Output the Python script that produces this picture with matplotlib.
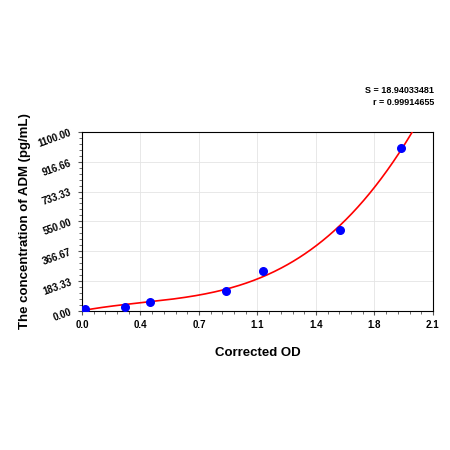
import numpy as np
import matplotlib.pyplot as plt
from matplotlib.ticker import MultipleLocator

od = [0.02, 0.257, 0.406, 0.865, 1.084, 1.542, 1.911]
conc = [14, 25, 57, 121, 248, 496, 1000]
x_ticks = [0, 0.35, 0.7, 1.05, 1.4, 1.75, 2.1]
x_labels = ['0.0', '0.4', '0.7', '1.1', '1.4', '1.8', '2.1']
y_ticks = [0, 183.33, 366.67, 550, 733.33, 916.66, 1100]
y_labels = ['0.00', '183.33', '366.67', '550.00', '733.33', '916.66', '1100.00']

plt.rcParams['font.family'] = ['Liberation Sans', 'DejaVu Sans']
fig = plt.figure(figsize=(4.5, 4.5), dpi=100)
ax = fig.add_axes([0.182, 0.309, 0.78, 0.398])

# fitted curve
coef = np.polyfit(od, conc, 3)
xs = np.linspace(0, 2.1, 300)
ys = np.polyval(coef, xs)
ax.plot(xs, ys, color='red', lw=1.2, zorder=3)
ax.scatter(od, conc, s=30, color='blue', zorder=4)

ax.set_xlim(0, 2.1)
ax.set_ylim(0, 1100)
ax.set_xticks(x_ticks)
ax.set_xticklabels(x_labels, fontsize=7, fontweight='bold')
ax.set_yticks(y_ticks)
ax.set_yticklabels(y_labels, fontsize=7, fontweight='bold', rotation=20)
ax.xaxis.set_minor_locator(MultipleLocator(0.07))
ax.yaxis.set_minor_locator(MultipleLocator(1100 / 30))
ax.tick_params(which='both', direction='out', length=3, color='#555555')
ax.tick_params(which='minor', length=2)
ax.grid(True, color='#e4e4e4', lw=0.6)
ax.set_axisbelow(True)
ax.set_xlabel('Corrected OD', fontsize=9.5, fontweight='bold', labelpad=12)
ax.set_ylabel('The concentration of ADM (pg/mL)', fontsize=9.5, fontweight='bold', labelpad=4)
fig.text(0.965, 0.762, 'S = 18.94033481\nr = 0.99914655', ha='right', va='bottom',
         fontsize=6.5, fontweight='bold', linespacing=1.4)

fig.savefig('out.png', dpi=100)
